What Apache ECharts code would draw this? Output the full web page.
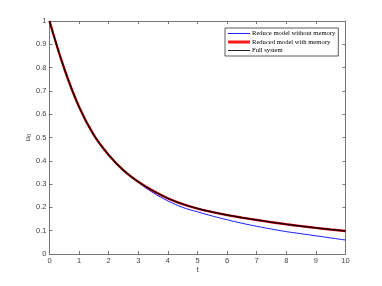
<!DOCTYPE html>
<html><head><meta charset="utf-8">
<script src="https://cdn.jsdelivr.net/npm/echarts@6/dist/echarts.min.js"></script>
<style>html,body{margin:0;padding:0;background:#fff}#c{width:382px;height:286px}</style>
</head><body><div id="c"></div>
<script>
var tValues = [0,0.5,1,1.5,2,2.5,3,3.5,4,4.5,5,5.5,6,6.5,7,7.5,8,8.5,9,9.5,10];
var noMemory = [1,0.795,0.631,0.51,0.425,0.359,0.307,0.263,0.228,0.200,0.181,0.163,0.147,0.132,0.119,0.107,0.096,0.087,0.078,0.069,0.060];
var withMemory = [1,0.795,0.631,0.51,0.425,0.359,0.310,0.271,0.239,0.214,0.195,0.180,0.167,0.156,0.146,0.1365,0.1275,0.1195,0.112,0.105,0.099];
var fullSystem = [1,0.795,0.631,0.51,0.425,0.359,0.310,0.271,0.239,0.214,0.195,0.180,0.167,0.156,0.146,0.1365,0.1275,0.1195,0.112,0.105,0.099];
var seriesNames = ['Reduce model without memory','Reduced model with memory','Full system'];

function pairs(ys){ return tValues.map(function(t,i){ return [t, ys[i]]; }); }
var axisCol = '#777';
var lblStyle = {color:'#444', fontSize:7.5, fontFamily:'Liberation Sans'};
var chart = echarts.init(document.getElementById('c'), null, {renderer:'canvas'});
chart.setOption({
  animation:false,
  backgroundColor:'#fff',
  grid:{left:49.5, right:36.5, top:21, bottom:32},
  legend:{
    orient:'vertical', left:225, top:28,
    padding:[2,3,2,3], itemGap:1.5, itemWidth:22, itemHeight:7,
    borderColor:'#333', borderWidth:0.8, backgroundColor:'#fff',
    textStyle:{fontFamily:'Liberation Serif', fontSize:6.6, color:'#000', padding:[0,0,0,-3]},
    data:[
      {name:seriesNames[0], icon:'path://M0,3H22V4H0Z', itemStyle:{color:'#2222ff', borderWidth:0}, lineStyle:{color:'#2222ff', width:0}},
      {name:seriesNames[1], icon:'path://M0,2H22V5H0Z', itemStyle:{color:'#ff1a1a', borderWidth:0}, lineStyle:{color:'#ff1a1a', width:0}},
      {name:seriesNames[2], icon:'path://M0,3H22V4H0Z', itemStyle:{color:'#222', borderWidth:0}, lineStyle:{color:'#222', width:0}}
    ]
  },
  xAxis:[{
    type:'value', min:0, max:10, interval:1,
    name:'t', nameLocation:'middle', nameGap:12, nameMoveOverlap:false,
    nameTextStyle:{color:'#444', fontSize:8, fontFamily:'Liberation Sans'},
    axisLine:{show:true, lineStyle:{color:axisCol, width:1}},
    axisTick:{show:true, inside:true, length:3, lineStyle:{color:axisCol}},
    axisLabel:Object.assign({margin:3}, lblStyle),
    splitLine:{show:false}
  },{
    type:'value', min:0, max:10, interval:1, position:'top',
    axisLine:{show:true, onZero:false, lineStyle:{color:axisCol, width:1}},
    axisTick:{show:true, inside:true, length:3, lineStyle:{color:axisCol}},
    axisLabel:{show:false}, splitLine:{show:false}
  }],
  yAxis:[{
    type:'value', min:0, max:1, interval:0.1,
    name:'u{s|0}', nameLocation:'middle', nameGap:17, nameRotate:90, nameMoveOverlap:false,
    nameTextStyle:{color:'#444', fontSize:8, fontFamily:'Liberation Sans',
      rich:{s:{fontSize:6, color:'#444', verticalAlign:'bottom', padding:[4,0,0,0]}}},
    axisLine:{show:true, lineStyle:{color:axisCol, width:1}},
    axisTick:{show:true, inside:true, length:3, lineStyle:{color:axisCol}},
    axisLabel:Object.assign({margin:3}, lblStyle),
    splitLine:{show:false}
  },{
    type:'value', min:0, max:1, interval:0.1, position:'right',
    axisLine:{show:true, onZero:false, lineStyle:{color:axisCol, width:1}},
    axisTick:{show:true, inside:true, length:3, lineStyle:{color:axisCol}},
    axisLabel:{show:false}, splitLine:{show:false}
  }],
  series:[
    {name:seriesNames[0], type:'line', data:pairs(noMemory), smooth:0.4, showSymbol:false,
     color:'#1a1aff', lineStyle:{color:'#1a1aff', width:1}, z:2},
    {name:seriesNames[1], type:'line', data:pairs(withMemory), smooth:0.4, showSymbol:false,
     color:'#ff0000', lineStyle:{color:'#ee1111', width:2.4}, z:3},
    {name:seriesNames[2], type:'line', data:pairs(fullSystem), smooth:0.4, showSymbol:false,
     color:'#222', lineStyle:{color:'#200000', width:1.5}, z:4}
  ]
});
</script></body></html>
